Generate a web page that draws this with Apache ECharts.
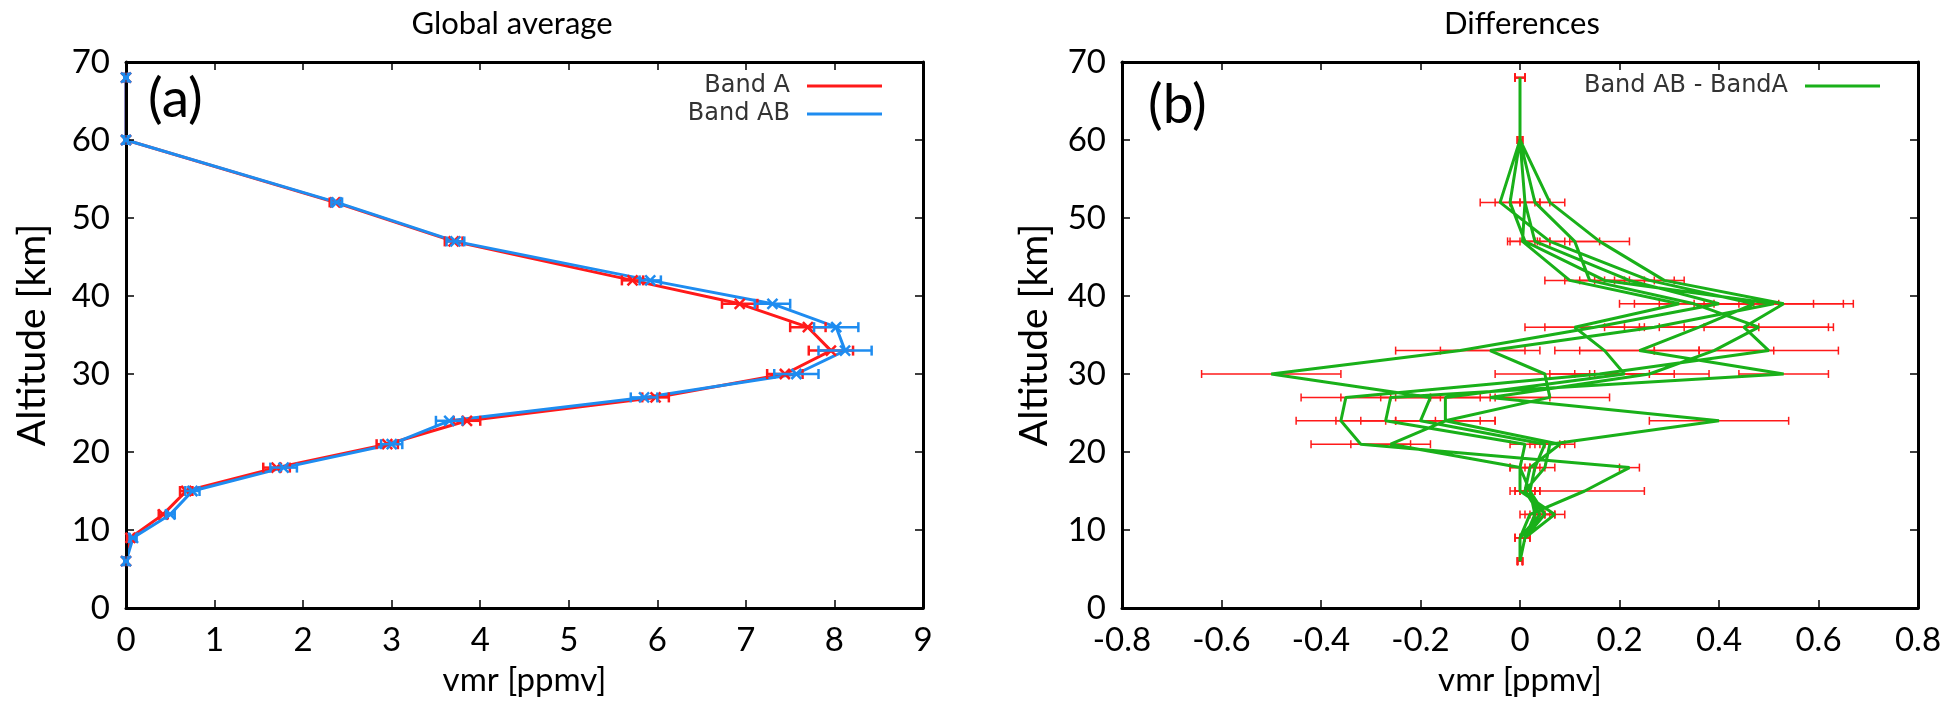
<!DOCTYPE html>
<html>
<head>
<meta charset="utf-8">
<script src="https://cdn.jsdelivr.net/npm/echarts@6/dist/echarts.min.js"></script>
<style>html,body{margin:0;padding:0;background:#fff}#c{width:1947px;height:718px}</style>
</head>
<body>
<div id="c"></div>
<script>
// ---------- data ----------
const altitudes = [6, 9, 12, 15, 18, 21, 24, 27, 30, 33, 36, 39, 42, 47, 52, 60, 68];
const xTicksLeft = [0, 1, 2, 3, 4, 5, 6, 7, 8, 9];
const xTicksRight = [-0.8, -0.6, -0.4, -0.2, 0, 0.2, 0.4, 0.6, 0.8];
const yTicks = [0, 10, 20, 30, 40, 50, 60, 70];

// Panel (a): global average vmr [ppmv]
const bandA  = [0, 0.05, 0.42, 0.68, 1.70, 2.95, 3.85, 5.98, 7.44, 7.96, 7.70, 6.93, 5.72, 3.70, 2.36, 0, 0];
const bandAB = [0, 0.08, 0.50, 0.75, 1.78, 3.00, 3.65, 5.85, 7.57, 8.12, 8.02, 7.30, 5.92, 3.72, 2.38, 0, 0];
const errA   = [0.02, 0.04, 0.05, 0.07, 0.15, 0.12, 0.15, 0.15, 0.20, 0.25, 0.20, 0.20, 0.12, 0.10, 0.06, 0.02, 0.02];
const errAB  = [0.02, 0.04, 0.05, 0.08, 0.15, 0.12, 0.15, 0.15, 0.25, 0.30, 0.25, 0.20, 0.12, 0.10, 0.06, 0.02, 0.02];

// Panel (b): differences Band AB - BandA, several profiles
const diff1 = [0, 0.01, 0.05, 0.02, 0.03, 0.05, -0.20, -0.18, -0.50, -0.12, 0.15, 0.40, 0.22, 0.03, 0.01, 0, 0];
const diff2 = [0, 0.00, 0.02, 0.13, 0.22, -0.32, -0.36, -0.35, 0.16, 0.50, 0.45, 0.53, 0.29, 0.16, 0.06, 0, 0];
const diff3 = [0, 0.01, 0.07, 0.00, 0.00, 0.01, -0.27, -0.26, 0.53, 0.24, 0.36, 0.47, 0.26, 0.06, -0.04, 0, 0];
const diff4 = [0, 0.00, 0.04, 0.01, 0.05, 0.06, 0.40, -0.06, 0.26, 0.39, 0.48, 0.35, 0.14, 0.11, 0.03, 0, 0];
const diff5 = [0, 0.01, 0.03, 0.02, 0.00, -0.26, -0.15, 0.06, 0.05, -0.06, 0.27, 0.51, 0.17, 0.01, -0.02, 0, 0];
const diff6 = [0, 0.00, 0.05, 0.01, 0.02, 0.08, -0.15, -0.15, 0.21, 0.17, 0.11, 0.32, 0.10, 0.005, 0.01, 0, 0];
const dErr1 = [0.005, 0.01, 0.02, 0.02, 0.02, 0.03, 0.12, 0.10, 0.14, 0.13, 0.10, 0.12, 0.05, 0.03, 0.03, 0.005, 0.01];
const dErr2 = [0.005, 0.01, 0.02, 0.12, 0.02, 0.10, 0.09, 0.09, 0.10, 0.14, 0.17, 0.14, 0.04, 0.06, 0.03, 0.005, 0.01];
const dErr3 = [0.005, 0.01, 0.02, 0.02, 0.02, 0.03, 0.10, 0.10, 0.09, 0.12, 0.12, 0.12, 0.05, 0.03, 0.04, 0.005, 0.01];
const dErr4 = [0.005, 0.01, 0.02, 0.02, 0.02, 0.03, 0.14, 0.12, 0.12, 0.12, 0.15, 0.12, 0.05, 0.05, 0.03, 0.005, 0.01];
const dErr5 = [0.005, 0.01, 0.02, 0.02, 0.02, 0.08, 0.10, 0.12, 0.10, 0.10, 0.10, 0.14, 0.05, 0.03, 0.03, 0.005, 0.01];
const dErr6 = [0.005, 0.01, 0.02, 0.02, 0.02, 0.03, 0.10, 0.10, 0.10, 0.10, 0.10, 0.12, 0.05, 0.03, 0.03, 0.005, 0.01];

const diffProfiles = [diff1, diff2, diff3, diff4, diff5, diff6];
const diffErrors = [dErr1, dErr2, dErr3, dErr4, dErr5, dErr6];

// ---------- build series data ----------
const lineA = altitudes.map((a, i) => [bandA[i], a]);
const lineAB = altitudes.map((a, i) => [bandAB[i], a]);
const ebA = altitudes.map((a, i) => [bandA[i], a, errA[i]]);
const ebAB = altitudes.map((a, i) => [bandAB[i], a, errAB[i]]);

let diffLine = [];
let diffEb = [];
diffProfiles.forEach((p, k) => {
  const idx = altitudes.map((_, i) => i);
  if (k % 2 === 1) idx.reverse();
  idx.forEach(i => {
    diffLine.push([p[i], altitudes[i]]);
    diffEb.push([p[i], altitudes[i], diffErrors[k][i]]);
  });
});

const RED = '#ff1a1a', BLUE = '#1e8cf0', GREEN = '#19b019';
const FONT = 'Lato, "Noto Sans", sans-serif';
const LEGFONT = '"DejaVu Sans", sans-serif';

function errRender(color, cap, cross, lw) {
  return function (params, api) {
    const x = api.value(0), y = api.value(1), e = api.value(2);
    const a = api.coord([x - e, y]), b = api.coord([x + e, y]), c = api.coord([x, y]);
    const st = { stroke: color, lineWidth: lw };
    const ch = [
      { type: 'line', shape: { x1: a[0], y1: a[1], x2: b[0], y2: b[1] }, style: st },
      { type: 'line', shape: { x1: a[0], y1: a[1] - cap, x2: a[0], y2: a[1] + cap }, style: st },
      { type: 'line', shape: { x1: b[0], y1: b[1] - cap, x2: b[0], y2: b[1] + cap }, style: st }
    ];
    if (cross) {
      const s = cross;
      ch.push({ type: 'line', shape: { x1: c[0] - s, y1: c[1] - s, x2: c[0] + s, y2: c[1] + s }, style: { stroke: color, lineWidth: 2.5 } });
      ch.push({ type: 'line', shape: { x1: c[0] - s, y1: c[1] + s, x2: c[0] + s, y2: c[1] - s }, style: { stroke: color, lineWidth: 2.5 } });
    }
    return { type: 'group', children: ch };
  };
}

function xAxes(grid, min, max, interval, name, fmt) {
  return [
    {
      type: 'value', gridIndex: grid, min, max, interval, position: 'bottom', z: 6,
      name, nameLocation: 'middle', nameGap: 56,
      nameTextStyle: { fontFamily: FONT, fontSize: 33, color: '#000' },
      axisLine: { show: true, onZero: false, lineStyle: { color: '#000', width: 3 } },
      axisTick: { show: true, inside: true, length: 8, lineStyle: { color: '#000', width: 1.5 } },
      axisLabel: { fontFamily: FONT, fontSize: 33, color: '#000', margin: 16, formatter: fmt },
      splitLine: { show: false }
    },
    {
      type: 'value', gridIndex: grid, min, max, interval, position: 'top', z: 6,
      axisLine: { show: true, onZero: false, lineStyle: { color: '#000', width: 3 } },
      axisTick: { show: true, inside: true, length: 8, lineStyle: { color: '#000', width: 1.5 } },
      axisLabel: { show: false }, splitLine: { show: false }
    }
  ];
}
function yAxes(grid, nameGap) {
  return [
    {
      type: 'value', gridIndex: grid, min: 0, max: 70, interval: 10, position: 'left', z: 6,
      name: 'Altitude [km]', nameLocation: 'middle', nameGap,
      nameTextStyle: { fontFamily: FONT, fontSize: 39, color: '#000' },
      axisLine: { show: true, onZero: false, lineStyle: { color: '#000', width: 3 } },
      axisTick: { show: true, inside: true, length: 8, lineStyle: { color: '#000', width: 1.5 } },
      axisLabel: { fontFamily: FONT, fontSize: 33, color: '#000', margin: 16 },
      splitLine: { show: false }
    },
    {
      type: 'value', gridIndex: grid, min: 0, max: 70, interval: 10, position: 'right', z: 6,
      axisLine: { show: true, onZero: false, lineStyle: { color: '#000', width: 3 } },
      axisTick: { show: true, inside: true, length: 8, lineStyle: { color: '#000', width: 1.5 } },
      axisLabel: { show: false }, splitLine: { show: false }
    }
  ];
}

const fmtR = v => String(Math.round(v * 10) / 10);

const legendText = { fontFamily: LEGFONT, fontSize: 24, color: '#333', lineHeight: 24, padding: [0, 12, 0, 0] };

const chart = echarts.init(document.getElementById('c'), null, { renderer: 'canvas' });
chart.setOption({
  animation: false,
  backgroundColor: '#fff',
  grid: [
    { left: 126, top: 62, width: 797, height: 546 },
    { left: 1122, top: 62, width: 796, height: 546 }
  ],
  xAxis: [].concat(xAxes(0, 0, 9, 1, 'vmr [ppmv]'), xAxes(1, -0.8, 0.8, 0.2, 'vmr [ppmv]', fmtR)),
  yAxis: [].concat(yAxes(0, 74), yAxes(1, 68)),
  legend: [
    {
      data: ['Band A', 'Band AB'], orient: 'vertical', right: 1060, top: 69, align: 'right',
      icon: 'rect', itemWidth: 75, itemHeight: 3, itemGap: 4, textStyle: legendText
    },
    {
      data: ['Band AB - BandA'], orient: 'vertical', right: 62, top: 69, align: 'right',
      icon: 'rect', itemWidth: 75, itemHeight: 3, itemGap: 4, textStyle: legendText
    }
  ],
  graphic: [
    { type: 'text', left: 148, top: 72, style: { text: '(a)', font: '55px ' + FONT, fill: '#000' } },
    { type: 'text', left: 1148, top: 78, style: { text: '(b)', font: '55px ' + FONT, fill: '#000' } },
    { type: 'text', x: 512, y: 24, style: { text: 'Global average', font: '31px ' + FONT, fill: '#000', textAlign: 'center', textVerticalAlign: 'middle' } },
    { type: 'text', x: 1522, y: 24, style: { text: 'Differences', font: '31px ' + FONT, fill: '#000', textAlign: 'center', textVerticalAlign: 'middle' } }
  ],
  series: [
    { type: 'line', name: 'Band A', xAxisIndex: 0, yAxisIndex: 0, data: lineA, symbol: 'none', color: RED, lineStyle: { color: RED, width: 3 }, z: 3 },
    { type: 'line', name: 'Band AB', xAxisIndex: 0, yAxisIndex: 0, data: lineAB, symbol: 'none', color: BLUE, lineStyle: { color: BLUE, width: 3 }, z: 4 },
    { type: 'custom', name: 'errA', xAxisIndex: 0, yAxisIndex: 0, data: ebA, renderItem: errRender(RED, 5, 5, 2.5), encode: { x: 0, y: 1 }, z: 7 },
    { type: 'custom', name: 'errAB', xAxisIndex: 0, yAxisIndex: 0, data: ebAB, renderItem: errRender(BLUE, 5, 5, 2.5), encode: { x: 0, y: 1 }, z: 8 },
    { type: 'custom', name: 'errDiff', xAxisIndex: 2, yAxisIndex: 2, data: diffEb, renderItem: errRender(RED, 4, 0, 1.5), encode: { x: 0, y: 1 }, z: 2 },
    { type: 'line', name: 'Band AB - BandA', xAxisIndex: 2, yAxisIndex: 2, data: diffLine, symbol: 'none', color: GREEN, lineStyle: { color: GREEN, width: 3 }, z: 3 }
  ]
});
</script>
</body>
</html>
